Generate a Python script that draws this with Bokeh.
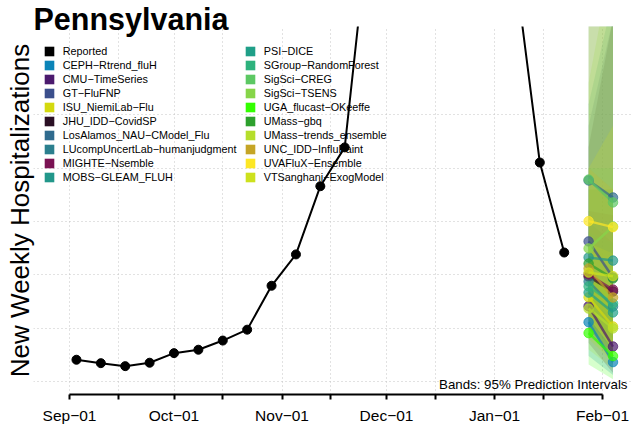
import pandas as pd
from bokeh.plotting import figure
from bokeh.models import (Range1d, FixedTicker, Grid, Label, Legend, LegendItem,
                          DatetimeTickFormatter)
from bokeh.embed import file_html
from bokeh.resources import INLINE

# ---------------- data ----------------
reported_dates = ["2022-09-03", "2022-09-10", "2022-09-17", "2022-09-24", "2022-10-01",
                  "2022-10-08", "2022-10-15", "2022-10-22", "2022-10-29", "2022-11-05",
                  "2022-11-12", "2022-11-19", "2022-11-26", "2022-12-03", "2022-12-10",
                  "2022-12-17", "2022-12-24", "2022-12-31", "2023-01-07", "2023-01-14",
                  "2023-01-21"]
reported_values = [102, 86, 72, 88, 133, 149, 192, 243, 449, 596, 916, 1098, 2150,
                   2900, 3300, 3100, 2700, 2300, 1923, 1027, 605]

forecast_dates = ["2023-01-28", "2023-02-04"]

models = ["CEPH−Rtrend_fluH", "CMU−TimeSeries", "GT−FluFNP", "ISU_NiemiLab−Flu",
          "JHU_IDD−CovidSP", "LosAlamos_NAU−CModel_Flu", "LUcompUncertLab−humanjudgment",
          "MIGHTE−Nsemble", "MOBS−GLEAM_FLUH", "PSI−DICE", "SGroup−RandomForest",
          "SigSci−CREG", "SigSci−TSENS", "UGA_flucast−OKeeffe", "UMass−gbq",
          "UMass−trends_ensemble", "UNC_IDD−InfluPaint", "UVAFluX−Ensemble",
          "VTSanghani−ExogModel"]
colors = ["#0b84b8", "#4b1a6e", "#3b4f8c", "#d4d90e", "#2a0f24", "#2f6b8e", "#2b7f8e",
          "#7a1253", "#22978a", "#1f9f88", "#2db27d", "#5cc863", "#86d549", "#33ff00",
          "#2da02d", "#b5de2b", "#c5a526", "#fde725", "#cde11d"]
# point forecasts (week 1, week 2)
point_wk1 = [278, 353, 657, 395, 492, 943, 469, 502, 582, 417, 446, 947, 624, 227, 553,
             342, 530, 752, 511]
point_wk2 = [91, 164, 488, 258, 422, 863, 352, 431, 567, 324, 366, 840, 727, 119, 483,
             249, 394, 724, 494]
# 95% prediction intervals
lower_wk1 = [120, 180, 420, 200, 250, 600, 280, 300, 320, 230, 250, 550, 380, 80, 330,
             150, 250, 300, 300]
upper_wk1 = [520, 600, 1200, 650, 1100, 1900, 750, 800, 1300, 700, 1000, 1750, 1400,
             500, 900, 650, 1000, 2200, 1000]
lower_wk2 = [30, 40, 220, 90, 120, 420, 150, 170, 200, 100, 100, 300, 300, 10, 200, 60,
             80, 150, 150]
upper_wk2 = [330, 420, 1700, 560, 1700, 2300, 650, 780, 1800, 650, 1000, 2400, 2000,
             400, 900, 600, 900, 2600, 1200]

grid_values = [0, 250, 500, 750, 1000, 1250]
month_ticks = ["2022-09-01", "2022-10-01", "2022-11-01", "2022-12-01", "2023-01-01",
               "2023-02-01"]
mid_ticks = ["2022-09-15", "2022-10-15", "2022-11-15", "2022-12-15", "2023-01-15"]


def ms(s):
    return pd.Timestamp(s).value / 1e6


rep_x = [ms(d) for d in reported_dates]
fc_x = [ms(d) for d in forecast_dates]
DAY = 86400000.0

x_start = ms("2022-09-01") - 10.33 * DAY
x_end = ms("2022-09-01") + 161.6 * DAY

p = figure(width=632, height=433, x_axis_type="datetime", y_axis_location="left",
           output_backend="svg", toolbar_location=None,
           x_range=Range1d(x_start, x_end), y_range=Range1d(-61, 1665),
           min_border_left=33, min_border_right=0, min_border_top=26,
           min_border_bottom=39)
p.outline_line_color = None
p.background_fill_color = "white"
p.border_fill_color = "white"

# title
p.title.text = "Pennsylvania"
p.title.text_font = "Liberation Sans"
p.title.text_font_style = "bold"
p.title.text_font_size = "30.5px"
p.title.text_color = "black"
p.title.align = "left"
p.title.offset = 0
p.title.standoff = -18
p.title.vertical_align = "bottom"

# y axis: title only
yax = p.yaxis[0]
yax.ticker = FixedTicker(ticks=[])
yax.axis_line_color = None
yax.major_tick_out = 0
yax.major_tick_in = 0
yax.minor_tick_out = 0
yax.minor_tick_in = 0
yax.major_label_standoff = 0
yax.axis_label = "New Weekly Hospitalizations"
yax.axis_label_text_font = "Liberation Sans"
yax.axis_label_text_font_style = "normal"
yax.axis_label_text_font_size = "26px"
yax.axis_label_text_color = "black"
yax.axis_label_standoff = -1

# grids
p.xgrid.ticker = FixedTicker(ticks=[ms(d) for d in month_ticks + mid_ticks])
p.xgrid.grid_line_color = "#c4c4c4"
p.xgrid.grid_line_dash = "1 3"
p.xgrid.grid_line_width = 1
p.ygrid.grid_line_color = None
yg = Grid(dimension=1, ticker=FixedTicker(ticks=grid_values), grid_line_color="#c4c4c4",
          grid_line_dash="1 3", grid_line_width=1)
p.add_layout(yg)

# x axis
ax = p.xaxis[0]
ax.ticker = FixedTicker(ticks=[ms(d) for d in month_ticks],
                        minor_ticks=[ms(d) for d in mid_ticks])
fmt = "%b−%d"
ax.formatter = DatetimeTickFormatter(microseconds=fmt, milliseconds=fmt, seconds=fmt,
                                     minsec=fmt, minutes=fmt, hourmin=fmt, hours=fmt,
                                     days=fmt, months=fmt, years=fmt)
ax.bounds = (ms(month_ticks[0]), ms(month_ticks[-1]))
ax.axis_line_width = 2
ax.axis_line_color = "black"
ax.major_tick_line_width = 2
ax.minor_tick_line_width = 2
ax.major_tick_out = 5
ax.major_tick_in = 0
ax.minor_tick_out = 5
ax.minor_tick_in = 0
ax.major_label_standoff = 7
ax.major_label_text_font = "Liberation Sans"
ax.major_label_text_font_size = "15.5px"
ax.major_label_text_color = "black"

# prediction bands
for i, m in enumerate(models):
    p.varea(x=fc_x, y1=[lower_wk1[i], lower_wk2[i]], y2=[upper_wk1[i], upper_wk2[i]],
            fill_color=colors[i], fill_alpha=0.2)

# forecast lines/points
for i, m in enumerate(models):
    p.line(x=fc_x, y=[point_wk1[i], point_wk2[i]], line_color=colors[i], line_width=2.5,
           line_alpha=0.7)
    p.scatter(x=fc_x, y=[point_wk1[i], point_wk2[i]], size=9.5, fill_color=colors[i],
              line_color=colors[i], fill_alpha=0.7, line_alpha=0.7)

# reported
p.line(x=rep_x, y=reported_values, line_color="black", line_width=2)
p.scatter(x=rep_x, y=reported_values, size=9, fill_color="black", line_color="black")

# legend (square key glyphs, one invisible row each so the key is drawn)
names = ["Reported"] + models
cols = ["black"] + colors
nan = float("nan")
items = []
for n, c in zip(names, cols):
    r = p.quad(left=[nan], right=[nan], top=[nan], bottom=[nan], fill_color=c,
               line_color=None)
    items.append(LegendItem(label=n, renderers=[r]))


def make_legend(its, vx, vy):
    lg = Legend(items=its, location=(vx, vy), padding=0, margin=0, spacing=2,
                glyph_width=12, glyph_height=12, label_height=12, label_width=10,
                label_standoff=8, border_line_color=None, background_fill_alpha=0,
                label_text_font="Liberation Sans", label_text_font_size="10.8px",
                label_text_color="black")
    p.add_layout(lg, "center")


make_legend(items[:10], 9.8, 211)
make_legend(items[10:], 210.8, 211)

# note inside the panel
p.add_layout(Label(x=627, y=384, x_units="canvas", y_units="canvas",
                   text="Bands: 95% Prediction Intervals",
                   text_font="Liberation Sans", text_font_size="13.3px",
                   text_color="black", text_baseline="alphabetic", text_align="right"))

open("out.html", "w").write(file_html(p, INLINE))
